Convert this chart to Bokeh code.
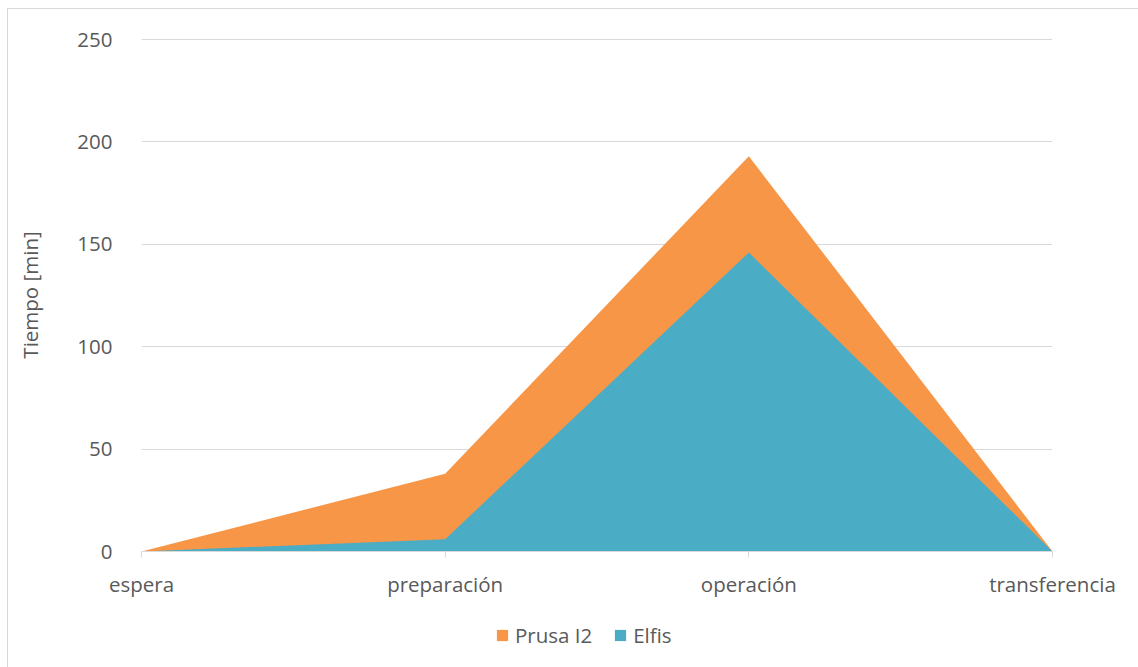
from bokeh.plotting import figure
from bokeh.layouts import column
from bokeh.models import Range1d, FixedTicker, Legend, LegendItem
from bokeh.embed import file_html
from bokeh.resources import INLINE

categories = ["espera", "preparación", "operación", "transferencia"]
prusa_i2 = [0, 38, 193, 0]
elfis = [0, 6, 146, 0]
y_ticks = [0, 50, 100, 150, 200, 250]
series_names = ["Prusa I2", "Elfis"]

FONT = "Open Sans"
TXT = "#595959"
ORANGE = "#F79646"
BLUE = "#4BACC6"
GRID = "#D9D9D9"

xs = list(range(len(categories)))

# main chart
p = figure(frame_width=911, frame_height=513, output_backend="svg", toolbar_location=None,
           x_range=Range1d(0, len(categories) - 1), y_range=Range1d(0, 250.5),
           min_border_left=133, min_border_right=86, min_border_top=29, min_border_bottom=60)
p.outline_line_color = None
p.background_fill_color = "white"
p.border_fill_color = "white"

p.varea(x=xs, y1=[0] * len(xs), y2=prusa_i2, fill_color=ORANGE)
p.varea(x=xs, y1=[0] * len(xs), y2=elfis, fill_color=BLUE)

p.xaxis.ticker = FixedTicker(ticks=xs)
p.xaxis.major_label_overrides = {i: c for i, c in enumerate(categories)}
p.xaxis.axis_line_color = GRID
p.xaxis.major_tick_line_color = GRID
p.xaxis.major_tick_out = 6
p.xaxis.major_tick_in = 0
p.xaxis.minor_tick_line_color = None
p.xaxis.major_label_standoff = 12
p.xaxis.major_label_text_font = FONT
p.xaxis.major_label_text_font_size = "20.5px"
p.xaxis.major_label_text_color = TXT
p.xgrid.grid_line_color = None

p.yaxis.ticker = FixedTicker(ticks=y_ticks)
p.yaxis.axis_line_color = None
p.yaxis.major_tick_line_color = None
p.yaxis.minor_tick_line_color = None
p.yaxis.major_label_standoff = 23
p.yaxis.major_label_text_font = FONT
p.yaxis.major_label_text_font_size = "20.5px"
p.yaxis.major_label_text_color = TXT
p.yaxis.axis_label = "Tiempo [min]"
p.yaxis.axis_label_text_font = FONT
p.yaxis.axis_label_text_font_size = "20.5px"
p.yaxis.axis_label_text_font_style = "normal"
p.yaxis.axis_label_text_color = TXT
p.yaxis.axis_label_standoff = 30
p.ygrid.grid_line_color = GRID
p.ygrid.grid_line_width = 1

# legend strip below the chart (same series, drawn outside its visible range)
lg = figure(frame_width=911, frame_height=56, output_backend="svg", toolbar_location=None,
            x_range=Range1d(100, 101), y_range=Range1d(0, 1),
            min_border_left=133, min_border_right=86, min_border_top=0, min_border_bottom=0)
lg.outline_line_color = None
lg.axis.visible = False
lg.grid.visible = False
lg.border_fill_color = "white"
g1 = lg.varea(x=xs, y1=[0] * len(xs), y2=prusa_i2, fill_color=ORANGE)
g2 = lg.varea(x=xs, y1=[0] * len(xs), y2=elfis, fill_color=BLUE)

legend = Legend(items=[LegendItem(label=series_names[0], renderers=[g1]),
                       LegendItem(label=series_names[1], renderers=[g2])],
                location=(354, 18), orientation="horizontal",
                label_text_font=FONT, label_text_font_size="20.5px", label_text_color=TXT,
                glyph_width=14, glyph_height=14, label_standoff=6, spacing=21,
                padding=0, margin=0, border_line_color=None, background_fill_alpha=0)
lg.add_layout(legend, "center")

layout = column(p, lg, spacing=0)
layout.margin = (8, 0, 0, 7)
layout.styles = {"border-top": "1px solid #D9D9D9", "border-left": "1px solid #D9D9D9"}

open("out.html", "w").write(file_html(layout, INLINE))
